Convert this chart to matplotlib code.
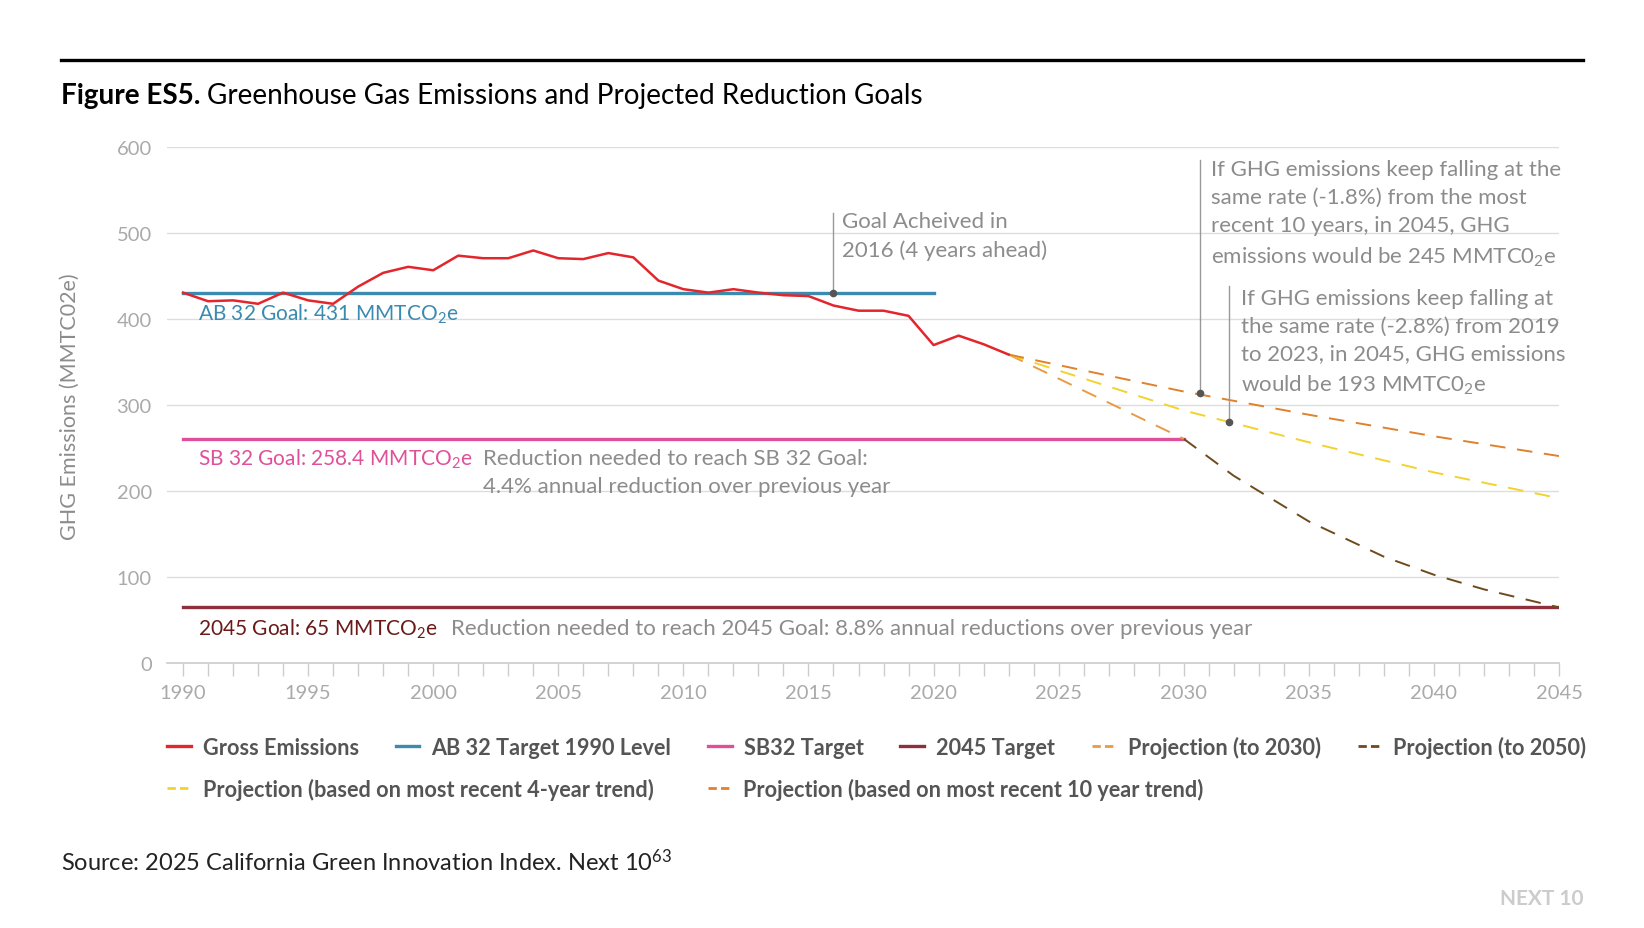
import numpy as np
import matplotlib
matplotlib.use("Agg")
import matplotlib.pyplot as plt
from matplotlib.lines import Line2D

plt.rcParams['font.family'] = ['Lato', 'DejaVu Sans']
plt.rcParams['mathtext.fontset'] = 'custom'
plt.rcParams['mathtext.rm'] = 'Lato'
plt.rcParams['mathtext.it'] = 'Lato:italic'
plt.rcParams['mathtext.bf'] = 'Lato:bold'

# gross emissions (MMTCO2e)
years = list(range(1990, 2024))
gross = [431, 421, 422, 418, 431, 422, 418, 438, 454, 461,
         457, 474, 471, 471, 480, 471, 470, 477, 472, 445,
         435, 431, 435, 431, 428, 427, 416, 410, 410, 404,
         370, 381, 371, 359]

# targets
ab32_years = [1990, 2020]
ab32_level = 431
sb32_years = [1990, 2030]
sb32_level = 261
t2045_years = [1990, 2045]
t2045_level = 65

# projections
proj2030_years = [2023, 2030]
proj2030_vals = [359, 261]
proj2050_years = [2030, 2032, 2035, 2038, 2040, 2042, 2045]
proj2050_vals = [261, 218, 165, 124, 103, 86, 65]
proj4yr_years = [2023, 2030, 2035, 2040, 2045]
proj4yr_vals = [359, 294, 257, 222, 192]
proj10yr_years = [2023, 2030, 2035, 2040, 2045]
proj10yr_vals = [359, 316, 289, 264, 241]

c_red = '#E3262B'
c_blue = '#3B8BB0'
c_pink = '#E0509A'
c_maroon = '#8E2F3D'
c_orange_lt = '#E99A45'
c_brown = '#6E4A1C'
c_yellow = '#F2D32E'
c_orange = '#E0812B'
c_grey = '#8c8c8c'

fig = plt.figure(figsize=(16.44, 9.29), dpi=100)
ax = fig.add_axes([0.1016, 0.2849, 0.9483 - 0.1016, 0.8404 - 0.2849])

ax.set_xlim(1989.36, 2045)
ax.set_ylim(0, 600)
for s in ['top', 'right', 'left']:
    ax.spines[s].set_visible(False)
ax.spines['bottom'].set_color('#cccccc')
ax.spines['bottom'].set_linewidth(1.2)
ax.set_yticks(range(0, 601, 100))
ax.yaxis.grid(True, color='#dddddd', lw=1)
ax.set_axisbelow(True)
ax.set_xticks(range(1990, 2046, 5))
ax.set_xticks(range(1990, 2046, 1), minor=True)
ax.tick_params(axis='x', which='both', length=9, color='#cccccc', width=1,
               labelsize=14.5, labelcolor='#aaaaaa', pad=6)
ax.tick_params(axis='y', length=0, labelsize=14.5, labelcolor='#aaaaaa', pad=11)
ax.set_ylabel('GHG Emissions (MMTC02e)', fontsize=15.5, color=c_grey, va='center')
ax.yaxis.set_label_coords(-0.0698, 0.5)

ax.plot(t2045_years, [t2045_level] * 2, color=c_maroon, lw=2.4)
ax.plot(sb32_years, [sb32_level] * 2, color=c_pink, lw=2.4)
ax.plot(ab32_years, [ab32_level] * 2, color=c_blue, lw=2.4)

dash = (0, (8, 6))
ax.plot(proj2050_years, proj2050_vals, color=c_brown, lw=1.4, ls=dash)
ax.plot(proj2030_years, proj2030_vals, color=c_orange_lt, lw=1.4, ls=dash)
ax.plot(proj4yr_years, proj4yr_vals, color=c_yellow, lw=1.4, ls=dash)
ax.plot(proj10yr_years, proj10yr_vals, color=c_orange, lw=1.4, ls=dash)
ax.plot(years, gross, color=c_red, lw=1.8)

# annotation leaders
ax.plot([2016, 2016], [431, 523], color='#999999', lw=1)
ax.plot(2016, 431, 'o', color='#555555', ms=4.5)
ax.plot([2030.65, 2030.65], [314, 585], color='#999999', lw=1)
ax.plot(2030.65, 314, 'o', color='#555555', ms=4.5)
ax.plot([2031.8, 2031.8], [281, 439], color='#999999', lw=1)
ax.plot(2031.8, 281, 'o', color='#555555', ms=4.5)

fs = 16
ls_ = 1.5
ax.text(2016.35, 497, 'Goal Acheived in\n2016 (4 years ahead)', fontsize=fs,
        color=c_grey, va='center', linespacing=ls_)
ax.text(2031.08, 523, 'If GHG emissions keep falling at the\nsame rate (-1.8%) from the most\n'
        'recent 10 years, in 2045, GHG\nemissions would be 245 MMTC0$_2$e',
        fontsize=fs, color=c_grey, va='center', linespacing=ls_)
ax.text(2032.3, 374, 'If GHG emissions keep falling at\nthe same rate (-2.8%) from 2019\n'
        'to 2023, in 2045, GHG emissions\nwould be 193 MMTC0$_2$e',
        fontsize=fs, color=c_grey, va='center', linespacing=ls_)

lfs = 15
ax.text(1990.6, 407, 'AB 32 Goal: 431 MMTCO$_2$e', fontsize=lfs, color=c_blue, va='center')
ax.text(1990.6, 238, 'SB 32 Goal: 258.4 MMTCO$_2$e', fontsize=lfs, color=c_pink, va='center')
ax.text(2002.0, 222, 'Reduction needed to reach SB 32 Goal:\n4.4% annual reduction over previous year',
        fontsize=fs, color=c_grey, va='center', linespacing=ls_)
ax.text(1990.6, 41, '2045 Goal: 65 MMTCO$_2$e', fontsize=lfs, color='#6B1A1A', va='center')
ax.text(2000.7, 41, 'Reduction needed to reach 2045 Goal: 8.8% annual reductions over previous year',
        fontsize=fs, color=c_grey, va='center')

# legend, two rows
def h(c, ls='-'):
    return Line2D([], [], color=c, lw=2.4 if ls == '-' else 2, ls=ls)

row1 = [(h(c_red), 'Gross Emissions'), (h(c_blue), 'AB 32 Target 1990 Level'),
        (h(c_pink), 'SB32 Target'), (h(c_maroon), '2045 Target'),
        (h(c_orange_lt, (0, (3, 1.5))), 'Projection (to 2030)'),
        (h(c_brown, (0, (3, 1.5))), 'Projection (to 2050)')]
row2 = [(h(c_yellow, (0, (3, 1.5))), 'Projection (based on most recent 4-year trend)'),
        (h(c_orange, (0, (3, 1.5))), 'Projection (based on most recent 10 year trend)')]
for row, yy, cs in [(row1, 0.195, 1.7), (row2, 0.150, 2.5)]:
    leg = fig.legend([r[0] for r in row], [r[1] for r in row], loc='center left',
                     bbox_to_anchor=(0.1015, yy), ncol=len(row), frameon=False,
                     borderpad=0, borderaxespad=0, handlelength=1.1, handletextpad=0.55,
                     columnspacing=cs, prop={'size': 15.6, 'weight': 'bold'})
    for t in leg.get_texts():
        t.set_color('#555555')

# title and frame
fig.add_artist(Line2D([0.0371, 0.963], [0.9343, 0.9343], color='black', lw=2.4))
t1 = fig.text(0.0371, 0.897, 'Figure ES5.', fontsize=20.1, fontweight='bold', va='center')
fig.canvas.draw()
bb = t1.get_window_extent().transformed(fig.transFigure.inverted())
fig.text(bb.x1 + 0.004, 0.897, 'Greenhouse Gas Emissions and Projected Reduction Goals',
         fontsize=20.1, va='center')

fig.text(0.0371, 0.0725, 'Source: 2025 California Green Innovation Index. Next 10$^{63}$',
         fontsize=17, va='center', color='#222222')
fig.text(0.9635, 0.0323, 'NEXT 10', fontsize=15, fontweight='bold', color='#cccccc',
         ha='right', va='center')

fig.savefig('out.png', dpi=100)
